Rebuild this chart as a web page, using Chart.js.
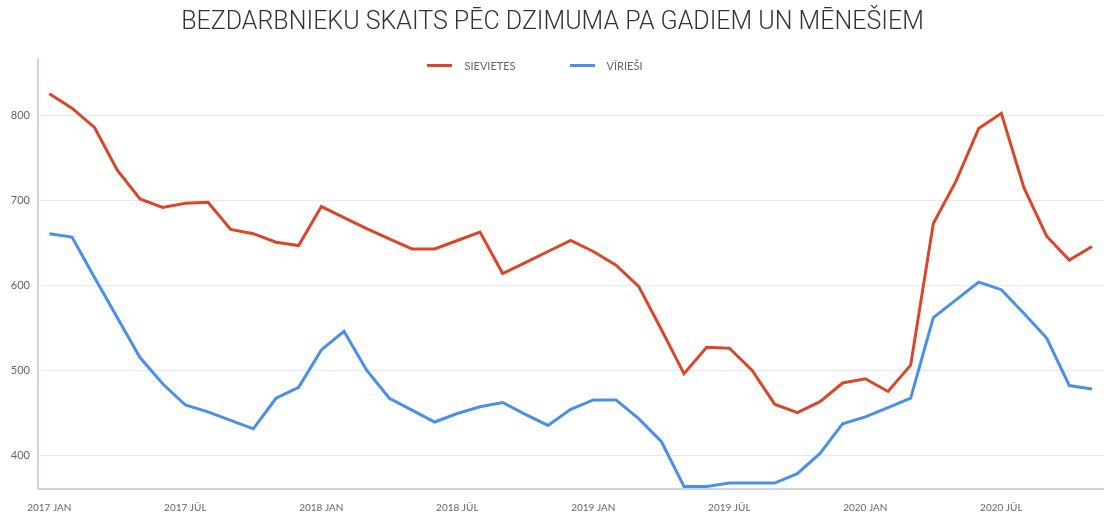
<!DOCTYPE html>
<html>
<head>
<meta charset="utf-8">
<script src="https://cdn.jsdelivr.net/npm/chart.js@4"></script>
<style>
  html, body { margin: 0; padding: 0; background: #fff; }
  #wrap { position: relative; width: 1105px; height: 517px; }
  #legend {
    position: absolute; top: 58px; left: 0; width: 1070px;
    display: flex; justify-content: center; gap: 54px;
    font: 11px Lato, sans-serif; color: #666;
  }
  .item { display: flex; align-items: center; gap: 12px; height: 14px; }
  .swatch { width: 25px; height: 3px; }
</style>
</head>
<body>
<div id="wrap">
  <canvas id="chart" width="1105" height="517"></canvas>
  <div id="legend"></div>
</div>
<script>
const years = ['2017', '2018', '2019', '2020'];
const months = ['JAN', 'FEB', 'MAR', 'APR', 'MAI', 'JŪN', 'JŪL', 'AUG', 'SEP', 'OKT', 'NOV', 'DEC'];
const monthCount = 47; // 2017 JAN .. 2020 NOV

const labels = [];
years.forEach(y => months.forEach(m => labels.push(`${y} ${m}`)));
labels.length = monthCount;

const sievietes = [
  826, 809, 786, 736, 702, 692, 697, 698, 666, 661, 651, 647,
  693, 680, 667, 655, 643, 643, 653, 663, 614, 627, 640, 653,
  640, 624, 599, 548, 496, 527, 526, 500, 460, 450, 463, 485,
  490, 475, 506, 673, 723, 785, 803, 715, 658, 630, 646
];

const viriesi = [
  661, 657, 609, 562, 515, 484, 459, 451, 441, 431, 467, 480,
  524, 546, 500, 467, 453, 439, 449, 457, 462, 448, 435, 454,
  465, 465, 443, 416, 363, 363, 367, 367, 367, 378, 402, 437,
  445, 456, 467, 562, 583, 604, 595, 567, 538, 482, 478
];

const yTicks = [400, 500, 600, 700, 800];

const ctx = document.getElementById('chart').getContext('2d');

const chart = new Chart(ctx, {
  type: 'line',
  data: {
    labels,
    datasets: [
      {
        label: 'SIEVIETES',
        data: sievietes,
        borderColor: '#d9472b',
        backgroundColor: '#d9472b',
        borderWidth: 3,
        pointRadius: 0,
        tension: 0
      },
      {
        label: 'VĪRIEŠI',
        data: viriesi,
        borderColor: '#4a8fe8',
        backgroundColor: '#4a8fe8',
        borderWidth: 3,
        pointRadius: 0,
        tension: 0
      }
    ]
  },
  options: {
    responsive: false,
    animation: false,
    layout: { padding: 0 },
    plugins: {
      legend: { display: false },
      tooltip: { enabled: false },
      title: {
        display: true,
        text: 'BEZDARBNIEKU SKAITS PĒC DZIMUMA PA GADIEM UN MĒNEŠIEM',
        color: '#333',
        font: { family: 'Roboto', size: 25, weight: 300 },
        padding: { top: 8, bottom: 21 }
      }
    },
    scales: {
      x: {
        offset: true,
        grid: { display: false, drawTicks: false },
        border: { color: '#c9d6ec', width: 2 },
        ticks: {
          autoSkip: false,
          maxRotation: 0,
          padding: 13,
          color: '#666',
          font: { family: 'Lato', size: 10 },
          callback: (v, i) => (i % 6 === 0 ? labels[i] : '')
        },
        afterFit: scale => { scale.height = 28; }
      },
      y: {
        min: 360,
        max: 867,
        afterBuildTicks: scale => { scale.ticks = yTicks.map(value => ({ value })); },
        grid: { color: '#e6e9f0', drawTicks: false },
        border: { color: '#c9d6ec', width: 2 },
        ticks: {
          padding: 8,
          color: '#666',
          font: { family: 'Lato', size: 11 }
        },
        afterFit: scale => { scale.width = 38; }
      }
    }
  }
});

// legend drawn as html over the top of the plot area
const legendDiv = document.getElementById('legend');
legendDiv.innerHTML = chart.data.datasets.map(ds => `
  <div class="item">
    <span class="swatch" style="background:${ds.borderColor}"></span>
    <span>${ds.label}</span>
  </div>`).join('');
</script>
</body>
</html>
